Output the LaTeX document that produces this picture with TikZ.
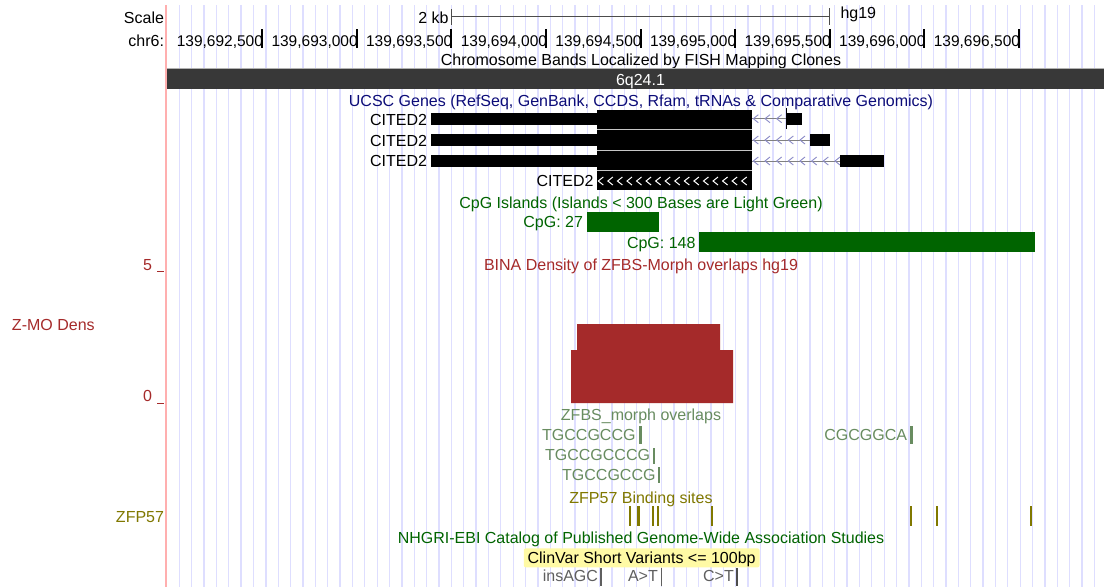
\documentclass[tikz,border=0pt]{standalone}
\usepackage{fontspec}
\setmainfont{Liberation Sans}
\definecolor{gridc}{RGB}{222,222,255}
\definecolor{pinkline}{RGB}{255,175,175}
\definecolor{bandgray}{RGB}{56,56,56}
\definecolor{ucscblue}{RGB}{12,12,120}
\definecolor{cpggreen}{RGB}{0,100,0}
\definecolor{binared}{RGB}{165,42,42}
\definecolor{zfbsgreen}{RGB}{104,140,96}
\definecolor{olivec}{RGB}{128,120,0}
\definecolor{chevc}{RGB}{140,140,200}
\definecolor{clinyellow}{RGB}{255,250,165}
\definecolor{vargray}{RGB}{95,95,95}
\begin{document}
\begin{tikzpicture}[x=1pt,y=-1pt,
  every node/.style={inner sep=0pt,outer sep=0pt,font=\fontsize{16}{18}\selectfont},
  rlab/.style={anchor=base east},
  clab/.style={anchor=base},
  llab/.style={anchor=base west},
  poslab/.style={anchor=base east,font=\fontsize{15.5}{18}\selectfont},
  postick/.style={line width=2pt,black},
  intron/.style={draw=gray,line width=0.8pt},
  chevron/.style={draw=chevc,line width=0.9pt},
  wchev/.style={draw=white,line width=1pt}]
\useasboundingbox (0,0) rectangle (1104,587);
\fill[white] (0,0) rectangle (1104,587);
% grid lines
\foreach \i in {0,...,74} \draw[gridc,line width=1.3pt] ({179.3+12.366*\i},5) -- ({179.3+12.366*\i},587);
\draw[pinkline,line width=1.3pt] (166,5) -- (166,587);
% scale
\node[rlab] (scale) at (164,23.5) {Scale};
\node[rlab] (twokb) at (448.5,23.5) {2 kb};
\node[llab] (hg) at (840.5,18.5) {hg19};
\coordinate (sbl) at (451,16);
\coordinate (sbr) at (829.5,16);
\draw[line width=1pt,black!70] (sbl) -- (sbr);
\draw[line width=1pt,black!70] (451,9) -- (451,25);
\draw[line width=1pt,black!70] (829.5,8) -- (829.5,25);
% positions
\node[rlab] (chr) at (164,46.5) {chr6:};
\foreach \px/\lab in {262/139{,}692{,}500, 356.7/139{,}693{,}000, 451.3/139{,}693{,}500, 546/139{,}694{,}000, 640.6/139{,}694{,}500, 735.2/139{,}695{,}000, 829.8/139{,}695{,}500, 924.4/139{,}696{,}000, 1019/139{,}696{,}500}{
  \node[poslab] at (\px+1,46.5) {\lab};
  \draw[postick] (\px,29) -- (\px,48);
}
% chromosome band
\node[clab] (bandtitle) at (641,65.7) {Chromosome Bands Localized by FISH Mapping Clones};
\fill[bandgray] (167,68.5) rectangle (1104,89);
\draw[gray!60,line width=0.8pt] (167,68.8) -- (1104,68.8);
\node[clab,text=white] (band) at (640.5,85) {6q24.1};
% UCSC genes
\node[clab,text=ucscblue] (genestitle) at (641,106.5) {UCSC Genes (RefSeq, GenBank, CCDS, Rfam, tRNAs \& Comparative Genomics)};
\node[rlab] (g1) at (427,125.2) {CITED2};
\node[rlab] (g2) at (427,146) {CITED2};
\node[rlab] (g3) at (427,166.7) {CITED2};
\node[rlab] (g4) at (593.5,186.7) {CITED2};
% UTR left
\fill[black] (431,113.3) rectangle (597,125);
\fill[black] (431,134.3) rectangle (597,146);
\fill[black] (431,155) rectangle (597,166.7);
% CDS block
\fill[black] (597,110) rectangle (752,190);
\draw[gray!45,line width=0.8pt] (597,129.6) -- (752,129.6);
\draw[gray!45,line width=0.8pt] (597,150.2) -- (752,150.2);
\draw[gray!45,line width=0.8pt] (597,170.6) -- (752,170.6);
% introns
\draw[intron] (752,118.7) -- (787,118.7);
\foreach \cx in {753.3,765,776.7} \draw[chevron] (\cx+5,114.7) -- (\cx,118.7) -- (\cx+5,122.7);
\draw[black,line width=1pt] (786.8,108) -- (786.8,128.5);
\fill[black] (787,113.3) rectangle (802,125);
\draw[intron] (752,140) -- (810,140);
\foreach \cx in {753.3,765,776.7,788.3,800} \draw[chevron] (\cx+5,136) -- (\cx,140) -- (\cx+5,144);
\fill[black] (810,134) rectangle (830,145.5);
\draw[intron] (752,161) -- (840,161);
\foreach \cx in {753.3,765,776.7,788.3,800,811.7,823.3,835} \draw[chevron] (\cx+5,157) -- (\cx,161) -- (\cx+5,165);
\fill[black] (840,155) rectangle (884,166.7);
% white chevrons in row 4
\foreach \k in {0,...,15} \draw[wchev] ({598.3+9.56*\k+5},177) -- ({598.3+9.56*\k},181) -- ({598.3+9.56*\k+5},185);
% CpG islands
\node[clab,text=cpggreen] (cpgtitle) at (641,208.3) {CpG Islands (Islands < 300 Bases are Light Green)};
\node[rlab,text=cpggreen] (cpg27) at (583,227.7) {CpG: 27};
\fill[cpggreen] (587,212) rectangle (659,231.5);
\node[rlab,text=cpggreen] (cpg148) at (695.5,248.3) {CpG: 148};
\fill[cpggreen] (699.3,232.3) rectangle (1035,252);
% BINA density
\node[clab,text=binared] (binatitle) at (641,270) {BINA Density of ZFBS-Morph overlaps hg19};
\node[rlab,text=binared] (five) at (152,270) {5};
\draw[binared,line width=1pt] (157,271.5) -- (164,271.5);
\node[rlab,text=binared] (zero) at (152,401.7) {0};
\draw[binared,line width=1pt] (157,403) -- (164,403);
\node[llab,text=binared] (zmo) at (12,330) {Z-MO Dens};
\fill[binared] (571,403) -- (571,350) -- (577,350) -- (577,324) -- (720,324) -- (720,350) -- (733,350) -- (733,403) -- cycle;
% ZFBS morph overlaps
\node[clab,text=zfbsgreen] (zfbstitle) at (641,420.7) {ZFBS\_morph overlaps};
\node[rlab,text=zfbsgreen] (z1) at (635.5,440) {TGCCGCCG};
\fill[zfbsgreen] (638.8,426) rectangle (642.3,443.5);
\node[rlab,text=zfbsgreen] (z2) at (650,460.7) {TGCCGCCCG};
\fill[zfbsgreen] (653,447.5) rectangle (655,464);
\node[rlab,text=zfbsgreen] (z3) at (655.5,480.7) {TGCCGCCG};
\fill[zfbsgreen] (657.5,467) rectangle (659.8,483);
\node[rlab,text=zfbsgreen] (z4) at (907,440) {CGCGGCA};
\fill[zfbsgreen] (910.2,426) rectangle (913.4,443.5);
% ZFP57
\node[clab,text=olivec] (zfptitle) at (641,503.3) {ZFP57 Binding sites};
\node[rlab,text=olivec] (zfp) at (164,522.3) {ZFP57};
\foreach \tx in {630,653.2,657.7,711.7,911.2,937.1,1030.9} \draw[olivec,line width=1.8pt] (\tx,506) -- (\tx,526);
\draw[olivec,line width=3.2pt] (638.6,506) -- (638.6,526);
% GWAS
\node[clab,text=cpggreen] (gwas) at (641,543.3) {NHGRI-EBI Catalog of Published Genome-Wide Association Studies};
% ClinVar
\fill[clinyellow,rounded corners=2pt] (523.8,548.3) rectangle (759.5,567.3);
\node[clab] (clinvar) at (641.6,563.3) {ClinVar Short Variants <= 100bp};
\node[rlab,text=vargray] (v1) at (598,581.7) {insAGC};
\draw[vargray,line width=1.2pt] (601,568) -- (601,586);
\node[rlab,text=vargray] (v2) at (657.8,581.7) {A>T};
\draw[vargray,line width=1.2pt] (661.3,568) -- (661.3,586);
\node[rlab,text=vargray] (v3) at (733.8,581.7) {C>T};
\draw[vargray!80!black,line width=1.6pt] (737,568) -- (737,586);
\end{tikzpicture}
\end{document}
